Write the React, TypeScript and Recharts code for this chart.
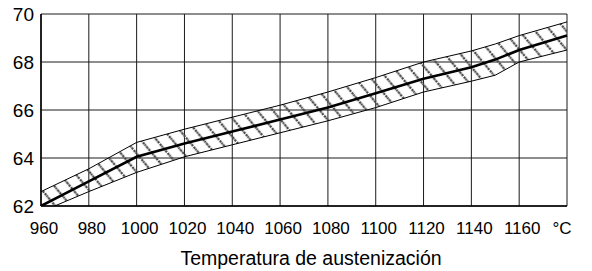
import React from 'react';
import { ComposedChart, Area, Line, XAxis, YAxis, CartesianGrid } from 'recharts';

const temperatures = [960, 980, 1000, 1020, 1040, 1060, 1080, 1100, 1120, 1140, 1150, 1160, 1180];
const hardnessMean = [62.0, 63.03, 64.05, 64.6, 65.1, 65.6, 66.1, 66.7, 67.3, 67.78, 68.1, 68.5, 69.1];
const hardnessUpper = [62.6, 63.55, 64.65, 65.2, 65.7, 66.2, 66.75, 67.35, 68.0, 68.46, 68.75, 69.1, 69.67];
const hardnessLower = [61.76, 62.6, 63.4, 64.05, 64.55, 65.05, 65.55, 66.1, 66.75, 67.2, 67.45, 68.0, 68.5];

const xTicks = [960, 980, 1000, 1020, 1040, 1060, 1080, 1100, 1120, 1140, 1160, 1180];
const yTicks = [62, 64, 66, 68, 70];
const xTitle = 'Temperatura de austenización';
const unitLabel = '°C';

const data = temperatures.map((t, i) => ({
  t,
  mean: hardnessMean[i],
  band: [hardnessLower[i], hardnessUpper[i]],
}));

const FONT = 'Liberation Sans, Arial, Helvetica, sans-serif';

const XTick = (props: any) => {
  const { x, y, payload } = props;
  const isUnit = payload.value === 1180;
  return (
    <text
      x={x + (isUnit ? -5 : 3)}
      y={y}
      dy="0.71em"
      textAnchor="middle"
      fill="#000"
      fontSize={17}
      fontFamily={FONT}
    >
      {isUnit ? unitLabel : String(payload.value)}
    </text>
  );
};

export default function App() {
  return (
    <div style={{ position: 'absolute', left: 0, top: 0 }}>
      <ComposedChart
        width={592}
        height={271}
        data={data}
        margin={{ top: 14, right: 25, left: 0, bottom: 0 }}
      >
        <defs>
          <pattern
            id="hatch"
            patternUnits="userSpaceOnUse"
            width={12}
            height={12}
            patternTransform="rotate(-40)"
          >
            <line x1={6} y1={-1} x2={6} y2={13} stroke="#4a4a4a" strokeWidth={2.3} strokeDasharray="2.5 0.8" />
          </pattern>
        </defs>
        <CartesianGrid stroke="#1a1a1a" strokeWidth={1} />
        <XAxis
          dataKey="t"
          type="number"
          domain={[960, 1180]}
          ticks={xTicks}
          interval={0}
          tick={<XTick />}
          tickLine={false}
          tickSize={0}
          tickMargin={16}
          axisLine={{ stroke: '#000', strokeWidth: 1.5 }}
          height={65}
          label={{
            value: xTitle,
            position: 'insideBottom',
            offset: 6,
            dx: 7,
            fill: '#000',
            fontSize: 19.5,
            fontFamily: FONT,
          }}
        />
        <YAxis
          type="number"
          domain={[62, 70]}
          ticks={yTicks}
          allowDataOverflow
          interval={0}
          width={41}
          tick={{ fill: '#000', fontSize: 19, fontFamily: FONT }}
          tickLine={false}
          tickSize={0}
          tickMargin={7}
          axisLine={{ stroke: '#000', strokeWidth: 1.5 }}
        />
        <Area
          dataKey="band"
          type="linear"
          stroke="#000"
          strokeWidth={1}
          fill="url(#hatch)"
          fillOpacity={1}
          dot={false}
          activeDot={false}
          isAnimationActive={false}
        />
        <Line
          dataKey="mean"
          type="linear"
          stroke="#000"
          strokeWidth={2.6}
          dot={false}
          activeDot={false}
          isAnimationActive={false}
        />
      </ComposedChart>
    </div>
  );
}
